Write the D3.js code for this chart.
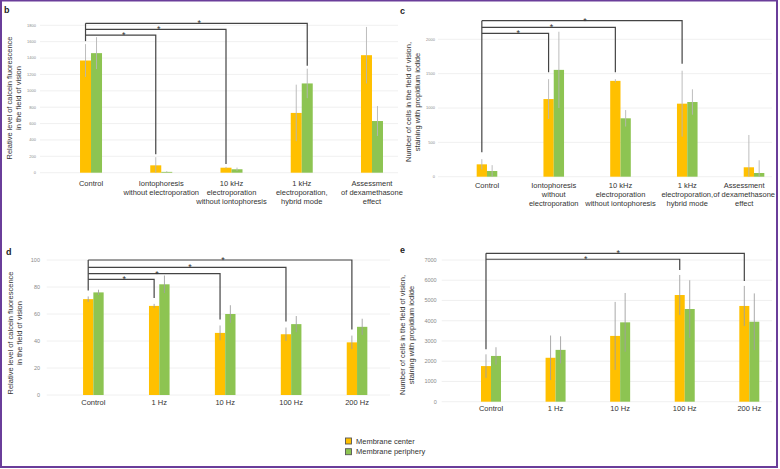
<!DOCTYPE html>
<html lang="en">
<head>
<meta charset="UTF-8">
<script src="https://d3js.org/d3.v7.min.js"></script>
<style>
    body { margin: 0; padding: 0; background: #fff; font-family: "Liberation Sans", Arial, sans-serif; }
    svg { display: block; }
</style>
</head>
<body>
<svg id="chart" width="780" height="469"></svg>
<script>
// ---- data ----
const seriesNames = ["Membrane center", "Membrane periphery"];
const colors = ["#FFC000", "#8DC452"];

// panel b
const catsB = [["Control"], ["Iontophoresis", "without electroporation"], ["10 kHz", "electroporation", "without iontophoresis"], ["1 kHz", "electroporation,", "hybrid mode"], ["Assessment", "of dexamethasone", "effect"]];
const centerB = [1370, 90, 61, 730, 1435];
const centerErrB = [200, 100, 10, 345, 345];
const periphB = [1460, 10, 42, 1090, 631];
const periphErrB = [195, 8, 20, 180, 183];
const ticksB = [0, 200, 400, 600, 800, 1000, 1200, 1400, 1600, 1800];

// panel c
const catsC = [["Control"], ["Iontophoresis", "without", "electroporation"], ["10 kHz", "electroporation", "without iontophoresis"], ["1 kHz", "electroporation,", "hybrid mode"], ["Assessment", "of dexamethasone", "effect"]];
const centerC = [180, 1130, 1395, 1063, 137];
const centerErrC = [75, 290, 25, 480, 470];
const periphC = [83, 1555, 850, 1087, 54];
const periphErrC = [85, 555, 120, 185, 185];
const ticksC = [0, 500, 1000, 1500, 2000];

// panel d
const catsD = [["Control"], ["1 Hz"], ["10 Hz"], ["100 Hz"], ["200 Hz"]];
const centerD = [71, 66, 46, 45, 39];
const centerErrD = [2, 1.5, 5.5, 5, 5];
const periphD = [76, 82, 60, 52.5, 50.5];
const periphErrD = [2, 6.5, 6.5, 6, 6];
const ticksD = [0, 20, 40, 60, 80, 100];

// panel e
const catsE = [["Control"], ["1 Hz"], ["10 Hz"], ["100 Hz"], ["200 Hz"]];
const centerE = [1760, 2170, 3250, 5270, 4730];
const centerErrE = [580, 1100, 1680, 990, 990];
const periphE = [2260, 2560, 3920, 4580, 3950];
const periphErrE = [430, 670, 1450, 1420, 1400];
const ticksE = [0, 1000, 2000, 3000, 4000, 5000, 6000, 7000];

// significance brackets: target category, target series, bracket level (data units)
const sigB = [{ to: 3, s: 1, level: 1824 }, { to: 2, s: 0, level: 1751 }, { to: 1, s: 0, level: 1681 }];
const sigC = [{ to: 3, s: 0, level: 2271 }, { to: 2, s: 0, level: 2175 }, { to: 1, s: 0, level: 2087 }];
const sigD = [{ to: 4, s: 0, level: 100 }, { to: 3, s: 0, level: 94.6 }, { to: 2, s: 0, level: 89.9 }, { to: 1, s: 0, level: 85.7 }];
const sigE = [{ to: 4, s: 0, level: 7332 }, { to: 3, s: 0, level: 7036 }];

const yTitleCalcein = ["Relative level of calcein fluorescence", "in the field of vision"];
const yTitleCells = ["Number of cells in the field of vision,", "staining with propidium iodide"];

const svg = d3.select("#chart");

function drawPanel(p) {
    const g = svg.append("g");
    const x = d3.scaleBand().domain(d3.range(p.cats.length)).range(p.xRange).padding(0);
    const y = d3.scaleLinear().domain(p.yDomain).range(p.yRange);
    const bw = p.barW;
    const barX = (i, s) => x(i) + x.bandwidth() / 2 + (s === 0 ? -bw : 0);
    const barMid = (i, s) => barX(i, s) + bw / 2;

    // grid
    g.selectAll(".grid").data(p.ticks).enter().append("line")
        .attr("x1", p.gridX[0]).attr("x2", p.gridX[1])
        .attr("y1", d => y(d)).attr("y2", d => y(d))
        .attr("stroke", "#ececec").attr("stroke-width", 0.8);

    // tick labels
    g.selectAll(".tick").data(p.ticks).enter().append("text")
        .attr("x", p.tickX).attr("y", d => y(d)).attr("dy", "0.35em")
        .attr("text-anchor", "end").attr("font-size", p.tickFont).attr("fill", "#8a8a8a")
        .text(d => d);

    // bars
    const series = [p.center, p.periph];
    const errs = [p.centerErr, p.periphErr];
    series.forEach((vals, s) => {
        g.selectAll(".bar" + s).data(vals).enter().append("rect")
            .attr("x", (d, i) => barX(i, s)).attr("width", bw)
            .attr("y", d => y(d)).attr("height", d => y(0) - y(d))
            .attr("fill", colors[s]);
    });
    series.forEach((vals, s) => {
        g.selectAll(".err" + s).data(vals).enter().append("line")
            .attr("x1", (d, i) => barMid(i, s)).attr("x2", (d, i) => barMid(i, s))
            .attr("y1", (d, i) => y(d + errs[s][i]))
            .attr("y2", (d, i) => y(Math.max(0, d - errs[s][i])))
            .attr("stroke", p.errColor).attr("stroke-width", 0.9);
    });

    // category labels (pulled back inside the frame if they run past it)
    p.cats.forEach((lines, i) => {
        const cx = x(i) + x.bandwidth() / 2;
        const t = g.append("text").attr("y", p.labelY)
            .attr("text-anchor", "middle").attr("font-size", 7.5).attr("fill", "#333");
        lines.forEach((l, k) => t.append("tspan").attr("x", cx)
            .attr("dy", k === 0 ? "0.35em" : "1.24em").text(l));
        const bb = t.node().getBBox();
        const over = bb.x + bb.width - p.labelMaxX;
        if (over > 0) t.selectAll("tspan").attr("x", cx - over);
    });

    // y title
    const yt = g.append("text").attr("transform", `translate(${p.titleX},${p.titleY}) rotate(-90)`)
        .attr("text-anchor", "middle").attr("font-size", 7.5).attr("fill", "#333");
    p.yTitle.forEach((l, k) => yt.append("tspan").attr("x", 0).attr("dy", k === 0 ? 0 : "1.2em").text(l));

    // panel letter
    g.append("text").attr("x", p.letterPos[0]).attr("y", p.letterPos[1])
        .attr("font-size", 9).attr("font-weight", "bold").attr("fill", "#222").text(p.letter);

    // significance brackets
    const x0 = barMid(0, 0);
    const top = d3.max(p.sig, d => d.level);
    const ctrlTop = y(p.center[0] + p.centerErr[0]) - p.gap;
    g.append("line").attr("x1", x0).attr("x2", x0).attr("y1", y(top)).attr("y2", ctrlTop)
        .attr("stroke", "#444").attr("stroke-width", 1.2);
    p.sig.forEach(b => {
        const x1 = barMid(b.to, b.s);
        const v = series[b.s][b.to] + errs[b.s][b.to];
        g.append("path")
            .attr("d", `M${x0},${y(b.level)}H${x1}V${y(v) - p.gap}`)
            .attr("fill", "none").attr("stroke", "#444").attr("stroke-width", 1.2);
        g.append("text").attr("x", (x0 + x1) / 2 + 3).attr("y", y(b.level) + 3)
            .attr("text-anchor", "middle").attr("font-size", 9).attr("fill", "#333").text("*");
    });
}

drawPanel({ letter: "b", letterPos: [4, 13], cats: catsB, center: centerB, centerErr: centerErrB, periph: periphB, periphErr: periphErrB,
    ticks: ticksB, yDomain: [0, 1800], yRange: [172.7, 25.3], xRange: [55.9, 407.1], barW: 11,
    gridX: [40, 398], tickX: 36, tickFont: 4, errColor: "#b5b5b5", labelY: 183, labelMaxX: 410, titleX: 11.7, titleY: 98,
    yTitle: yTitleCalcein, sig: sigB, gap: 3 });

drawPanel({ letter: "c", letterPos: [400, 14], cats: catsC, center: centerC, centerErr: centerErrC, periph: periphC, periphErr: periphErrC,
    ticks: ticksC, yDomain: [0, 2000], yRange: [176.7, 39.3], xRange: [453.6, 787.4], barW: 10.3,
    gridX: [438, 772], tickX: 435, tickFont: 4, errColor: "#b5b5b5", labelY: 185, labelMaxX: 775, titleX: 410.7, titleY: 102,
    yTitle: yTitleCells, sig: sigC, gap: 7 });

drawPanel({ letter: "d", letterPos: [6, 255], cats: catsD, center: centerD, centerErr: centerErrD, periph: periphD, periphErr: periphErrD,
    ticks: ticksD, yDomain: [0, 100], yRange: [395, 260], xRange: [60.4, 390], barW: 10.3,
    gridX: [46.7, 390], tickX: 40, tickFont: 5.5, errColor: "#a0a0a0", labelY: 402.7, labelMaxX: 775, titleX: 13.3, titleY: 333,
    yTitle: yTitleCalcein, sig: sigD, gap: 6 });

drawPanel({ letter: "e", letterPos: [400, 253], cats: catsE, center: centerE, centerErr: centerErrE, periph: periphE, periphErr: periphErrE,
    ticks: ticksE, yDomain: [0, 7000], yRange: [401.7, 260], xRange: [458.7, 781.6], barW: 10,
    gridX: [441.7, 772], tickX: 436.7, tickFont: 5.5, errColor: "#a0a0a0", labelY: 408.3, labelMaxX: 775, titleX: 405, titleY: 335,
    yTitle: yTitleCells, sig: sigE, gap: 5 });

// legend
const legend = svg.append("g");
seriesNames.forEach((name, s) => {
    const yy = 441 + s * 10.7;
    legend.append("rect").attr("x", 345.5).attr("y", yy - 3).attr("width", 6).attr("height", 6)
        .attr("fill", colors[s]).attr("stroke", "#555").attr("stroke-width", 0.9);
    legend.append("text").attr("x", 356).attr("y", yy).attr("dy", "0.35em")
        .attr("font-size", 7.5).attr("fill", "#333").text(name);
});

// frame
svg.append("rect").attr("x", 1).attr("y", 0.5).attr("width", 776).attr("height", 466.5)
    .attr("fill", "none").attr("stroke", "#6a3d9a").attr("stroke-width", 2);
</script>
</body>
</html>
